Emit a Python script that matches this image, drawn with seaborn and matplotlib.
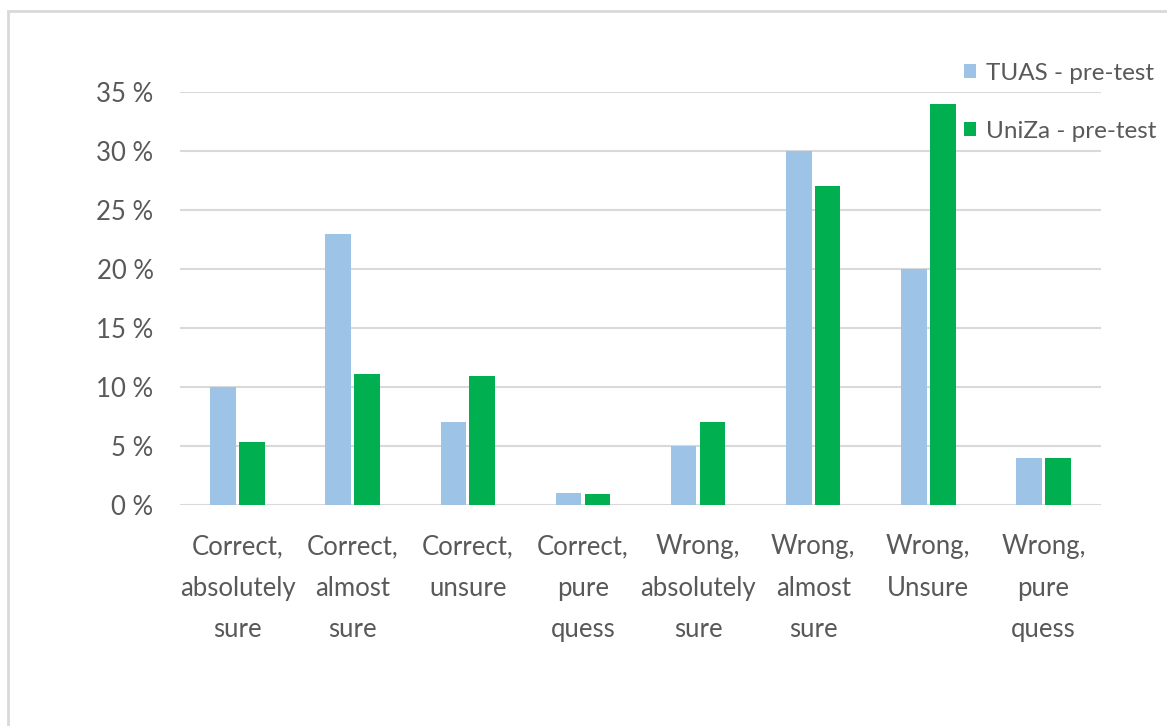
import matplotlib
matplotlib.use("Agg")
import matplotlib.pyplot as plt
from matplotlib.patches import Patch, Rectangle
from matplotlib.ticker import FuncFormatter
import seaborn as sns
import pandas as pd

# Answer categories (confidence level x correctness)
categories = [
    "Correct,\nabsolutely\nsure",
    "Correct,\nalmost\nsure",
    "Correct,\nunsure",
    "Correct,\npure\nquess",
    "Wrong,\nabsolutely\nsure",
    "Wrong,\nalmost\nsure",
    "Wrong,\nUnsure",
    "Wrong,\npure\nquess",
]
series_names = ["TUAS - pre-test", "UniZa - pre-test"]
tuas_pre = [10, 23, 7, 1, 5, 30, 20, 4]
uniza_pre = [5.3, 11.1, 10.9, 0.9, 7, 27, 34, 4]
y_ticks = [0, 5, 10, 15, 20, 25, 30, 35]

colors = ["#9DC3E6", "#00B050"]
text_color = "#595959"
grid_color = "#D9D9D9"

df = pd.DataFrame({
    "category": categories * 2,
    "series": [series_names[0]] * len(categories) + [series_names[1]] * len(categories),
    "value": tuas_pre + uniza_pre,
})

sns.set_theme(style="white")
plt.rcParams["font.family"] = ["Lato", "DejaVu Sans"]

W, H = 1167, 726
fig = plt.figure(figsize=(W / 100, H / 100), dpi=100)
fig.patch.set_facecolor("white")
ax = fig.add_axes([180 / W, 1 - 505 / H, (1101 - 180) / W, (505 - 92) / H])

sns.barplot(
    data=df, x="category", y="value", hue="series",
    palette=colors, width=0.5, gap=0.11, order=categories,
    hue_order=series_names, linewidth=0, saturation=1, ax=ax, legend=False,
)

ax.set_xlim(-0.5, len(categories) - 0.5)
ax.set_ylim(0, 35)
ax.set_yticks(y_ticks)
ax.yaxis.set_major_formatter(FuncFormatter(lambda v, p: f"{int(v)} %"))
ax.grid(axis="y", color=grid_color, linewidth=1.5)
ax.grid(axis="x", visible=False)
ax.set_axisbelow(True)
for side in ["top", "right", "left", "bottom"]:
    ax.spines[side].set_visible(False)
ax.set_xlabel("")
ax.set_ylabel("")
ax.tick_params(axis="y", length=0, pad=19, labelsize=18.5, labelcolor=text_color)
ax.tick_params(axis="x", length=0, pad=21, labelsize=18.5, labelcolor=text_color)
for lbl in ax.get_xticklabels():
    lbl.set_linespacing(1.82)
    lbl.set_verticalalignment("top")

handles = [Patch(facecolor=c, edgecolor="none") for c in colors]
fig.legend(
    handles, series_names, loc="upper left",
    bbox_to_anchor=(964 / W, 1 - 63 / H), frameon=False,
    fontsize=17.5, labelcolor=text_color, handlelength=0.5, handleheight=0.5,
    handletextpad=0.4, labelspacing=1.52, borderpad=0, borderaxespad=0,
)

# light chart-area border (open towards the right and bottom edges)
fig.add_artist(Rectangle((8 / W, -0.1), 1.2, 1.1 - 11 / H, transform=fig.transFigure,
                         facecolor="none", edgecolor=grid_color, linewidth=2, clip_on=False))

fig.savefig("out.png", dpi=100, facecolor="white")
